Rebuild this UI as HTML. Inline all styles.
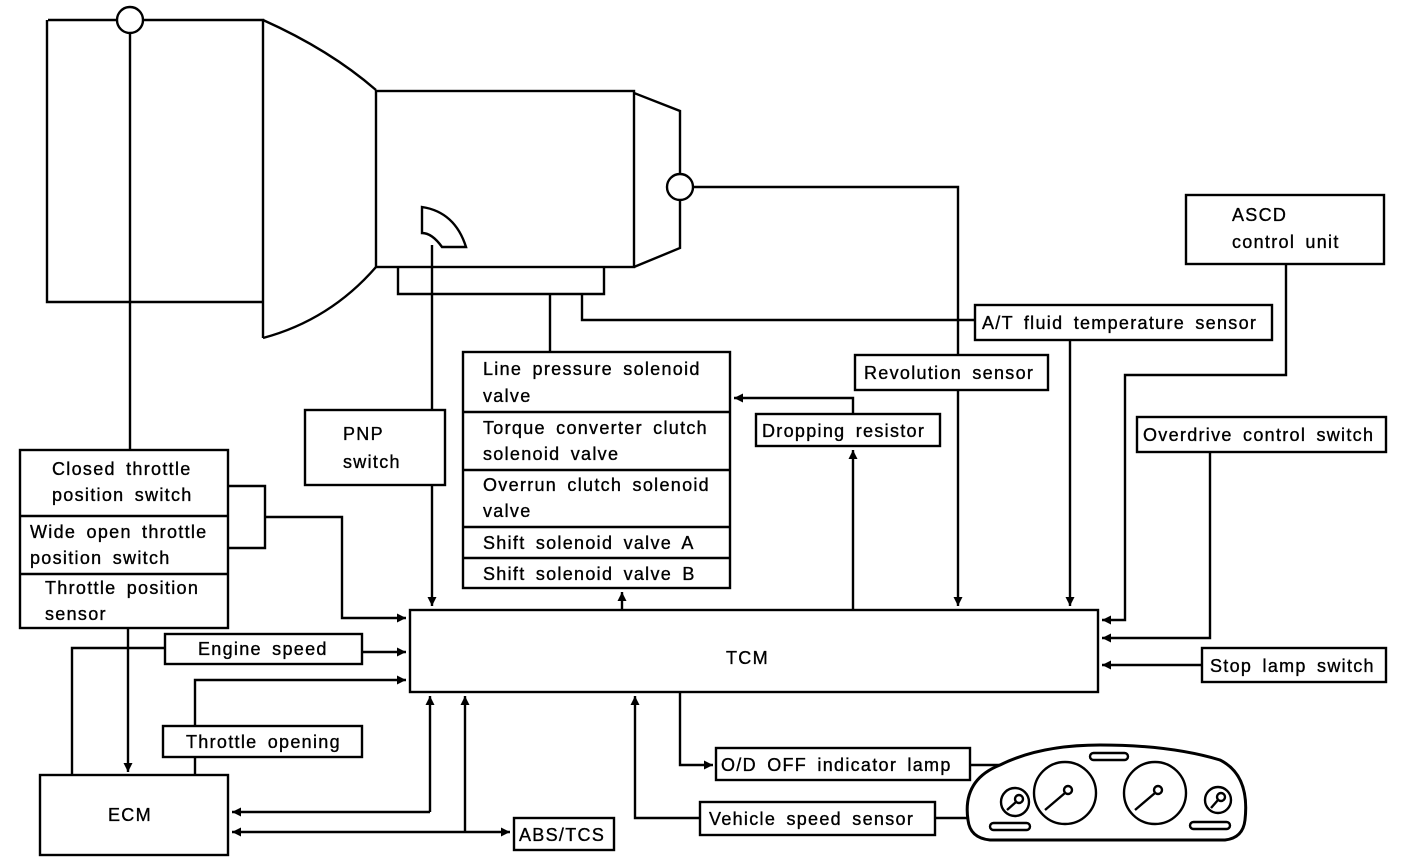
<!DOCTYPE html>
<html><head><meta charset="utf-8"><style>
html,body{margin:0;padding:0;background:#fff;}
svg{display:block;}
text{font-family:"Liberation Sans",Arial,sans-serif;font-size:18px;fill:#000;stroke:#000;stroke-width:0.35px;letter-spacing:1.3px;word-spacing:4px;}
</style></head><body>
<svg width="1408" height="860" viewBox="0 0 1408 860" xmlns="http://www.w3.org/2000/svg">
<defs>
<marker id="a" viewBox="0 0 10 10" refX="10" refY="5" markerWidth="9" markerHeight="9" markerUnits="userSpaceOnUse" orient="auto-start-reverse"><path d="M0,0L10,5L0,10z" fill="#000"/></marker>
</defs>
<g fill="none" stroke="#000" stroke-width="2.4">
<path d="M48,20 H263 V338 M263,302 H47 V20"/>
<path d="M263,20 Q330,50 376,90 M376,267 Q330,320 263,338"/>
<rect x="376" y="91" width="258" height="176"/>
<path d="M634,93 L680,111 V248 L634,267"/>
<circle cx="130" cy="20" r="13" fill="#fff"/>
<circle cx="680" cy="187" r="13" fill="#fff"/>
<path d="M422,207 Q455,212 466,247 H442 Q432,233 422,233 Z"/>
<path d="M398,267 V294 H604 V267"/>
<path d="M130,33 V450"/>
<path d="M128,628 V772" marker-end="url(#a)"/>
<path d="M228,486 H265 V548 H228 M265,517 H342 V618 H406" marker-end="url(#a)"/>
<path d="M72,775 V648 H165"/>
<path d="M362,652 H406" marker-end="url(#a)"/>
<path d="M195,775 V680 H406" marker-end="url(#a)"/>
<path d="M432,245 V606" marker-end="url(#a)"/>
<path d="M550,294 V352"/>
<path d="M582,294 V320 H975"/>
<path d="M622,610 V592" marker-end="url(#a)"/>
<path d="M853,610 V450" marker-end="url(#a)"/>
<path d="M853,414 V398 H734" marker-end="url(#a)"/>
<path d="M693,187 H958 V355"/>
<path d="M958,390 V606" marker-end="url(#a)"/>
<path d="M1070,340 V606" marker-end="url(#a)"/>
<path d="M1286,264 V375 H1125 V620 H1102" marker-end="url(#a)"/>
<path d="M1210,452 V638 H1102" marker-end="url(#a)"/>
<path d="M1202,665 H1102" marker-end="url(#a)"/>
<path d="M680,692 V765 H713" marker-end="url(#a)"/>
<path d="M700,818 H635 V696" marker-end="url(#a)"/>
<path d="M430,812 H232" marker-end="url(#a)"/>
<path d="M430,812 V696" marker-end="url(#a)"/>
<path d="M232,832 H510" marker-start="url(#a)" marker-end="url(#a)"/>
<path d="M465,832 V696" marker-end="url(#a)"/>
<path d="M970,765 H1000 M935,818 H968"/>
<g fill="#fff">
<rect x="20" y="450" width="208" height="178"/>
<rect x="305" y="410" width="140" height="75"/>
<rect x="463" y="352" width="267" height="236"/>
<rect x="756" y="414" width="184" height="32"/>
<rect x="855" y="355" width="193" height="35"/>
<rect x="975" y="305" width="297" height="35"/>
<rect x="1186" y="195" width="198" height="69"/>
<rect x="1137" y="417" width="249" height="35"/>
<rect x="1202" y="648" width="184" height="34"/>
<rect x="410" y="610" width="688" height="82"/>
<rect x="165" y="634" width="197" height="30"/>
<rect x="163" y="726" width="199" height="31"/>
<rect x="40" y="775" width="188" height="80"/>
<rect x="514" y="818" width="100" height="32"/>
<rect x="716" y="748" width="254" height="32"/>
<rect x="700" y="802" width="235" height="33"/>
</g>
<path d="M20,516 H228 M20,574 H228 M463,412 H730 M463,470 H730 M463,527 H730 M463,558 H730"/>
<path d="M968,820 Q962,780 1000,765 Q1040,745 1100,745 Q1170,745 1220,760 Q1250,775 1245,820 Q1243,838 1225,840 H990 Q970,838 968,820 Z" stroke-width="3"/>
<circle cx="1015" cy="802" r="14"/><circle cx="1065" cy="793" r="31"/><circle cx="1155" cy="793" r="31"/><circle cx="1218" cy="800" r="13"/>
<circle cx="1019" cy="799" r="4"/><path d="M1016,802 L1007,810"/>
<circle cx="1068" cy="790" r="4"/><path d="M1065,793 L1045,810"/>
<circle cx="1158" cy="790" r="4"/><path d="M1155,793 L1135,810"/>
<circle cx="1221" cy="797" r="4"/><path d="M1218,800 L1211,808"/>
<rect x="1090" y="753" width="38" height="7" rx="3.5"/>
<rect x="990" y="823" width="40" height="7" rx="3.5"/>
<rect x="1190" y="822" width="40" height="7" rx="3.5"/>
</g>
<text x="52" y="475">Closed throttle</text>
<text x="52" y="501">position switch</text>
<text x="30" y="538">Wide open throttle</text>
<text x="30" y="564">position switch</text>
<text x="45" y="594">Throttle position</text>
<text x="45" y="620">sensor</text>
<text x="343" y="440">PNP</text>
<text x="343" y="468">switch</text>
<text x="483" y="375">Line pressure solenoid</text>
<text x="483" y="402">valve</text>
<text x="483" y="434">Torque converter clutch</text>
<text x="483" y="460">solenoid valve</text>
<text x="483" y="491">Overrun clutch solenoid</text>
<text x="483" y="517">valve</text>
<text x="483" y="549">Shift solenoid valve A</text>
<text x="483" y="580">Shift solenoid valve B</text>
<text x="762" y="437">Dropping resistor</text>
<text x="864" y="379">Revolution sensor</text>
<text x="982" y="329">A/T fluid temperature sensor</text>
<text x="1232" y="221">ASCD</text>
<text x="1232" y="248">control unit</text>
<text x="1143" y="441">Overdrive control switch</text>
<text x="1210" y="672">Stop lamp switch</text>
<text x="726" y="664">TCM</text>
<text x="198" y="655">Engine speed</text>
<text x="186" y="748">Throttle opening</text>
<text x="108" y="821">ECM</text>
<text x="519" y="841">ABS/TCS</text>
<text x="721" y="771">O/D OFF indicator lamp</text>
<text x="709" y="825">Vehicle speed sensor</text>
</svg>
</body></html>
